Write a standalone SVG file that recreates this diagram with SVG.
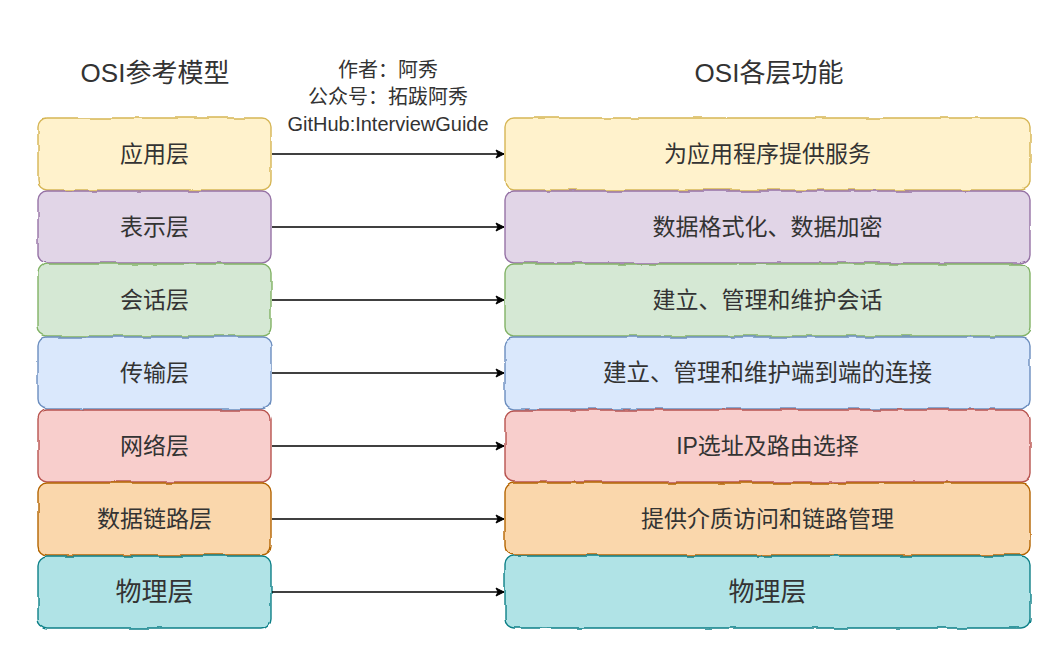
<svg xmlns="http://www.w3.org/2000/svg" width="1054" height="668" viewBox="0 0 1054 668">
<defs>
<marker id="arr" markerWidth="10" markerHeight="10" refX="9" refY="5" orient="auto" markerUnits="userSpaceOnUse">
<path d="M1,1 L9,5 L1,9 L3,5 Z" fill="#000" stroke="#000" stroke-width="1"/>
</marker>
<filter id="wob" x="-2%" y="-5%" width="104%" height="110%">
<feTurbulence type="fractalNoise" baseFrequency="0.04" numOctaves="2" seed="3" result="n"/>
<feDisplacementMap in="SourceGraphic" in2="n" scale="3" xChannelSelector="R" yChannelSelector="G"/>
</filter>
</defs>
<style>
text{font-family:"Liberation Sans","Noto Sans CJK SC",sans-serif;fill:#333;text-anchor:middle;dominant-baseline:central}
.t{font-size:26px}
.a{font-size:20px}
.l{font-size:23px}
.m{font-size:23.5px}
.big{font-size:26px}
rect{stroke-width:1.4;filter:url(#wob)}
.c1{fill:#fff2cc;stroke:#d6b656}
.c2{fill:#e1d5e7;stroke:#9673a6}
.c3{fill:#d5e8d4;stroke:#82b366}
.c4{fill:#dae8fc;stroke:#6c8ebf}
.c5{fill:#f8cecc;stroke:#b85450}
.c6{fill:#fad7ac;stroke:#b46504}
.c7{fill:#b0e3e6;stroke:#0e8088}
.cn line{stroke:#000;stroke-width:1.4;marker-end:url(#arr)}
</style>
<rect width="1054" height="668" fill="#fff" stroke="none" style="filter:none"/>
<g id="titles">
<text class="t" x="155" y="73">OSI参考模型</text>
<text class="t" x="769" y="73">OSI各层功能</text>
</g>
<g id="author">
<text class="a" x="388" y="70">作者：阿秀</text>
<text class="a" x="388" y="97">公众号：拓跋阿秀</text>
<text class="a" x="388" y="124">GitHub:InterviewGuide</text>
</g>
<g id="L1"><rect class="c1" x="38" y="118" width="233" height="72" rx="9"/><text class="l" x="154.5" y="154">应用层</text></g>
<g id="L2"><rect class="c2" x="38" y="191" width="233" height="72" rx="9"/><text class="l" x="154.5" y="227">表示层</text></g>
<g id="L3"><rect class="c3" x="38" y="264" width="233" height="72" rx="9"/><text class="l" x="154.5" y="300">会话层</text></g>
<g id="L4"><rect class="c4" x="38" y="337" width="233" height="72" rx="9"/><text class="l" x="154.5" y="373">传输层</text></g>
<g id="L5"><rect class="c5" x="38" y="410" width="233" height="72" rx="9"/><text class="l" x="154.5" y="446">网络层</text></g>
<g id="L6"><rect class="c6" x="38" y="483" width="233" height="72" rx="9"/><text class="l" x="154.5" y="519">数据链路层</text></g>
<g id="L7"><rect class="c7" x="38" y="556" width="233" height="72" rx="9"/><text class="big" x="154.5" y="592">物理层</text></g>
<g id="R1"><rect class="c1" x="505" y="118" width="525" height="72" rx="9"/><text class="l" x="767.5" y="154">为应用程序提供服务</text></g>
<g id="R2"><rect class="c2" x="505" y="191" width="525" height="72" rx="9"/><text class="l" x="767.5" y="227">数据格式化、数据加密</text></g>
<g id="R3"><rect class="c3" x="505" y="264" width="525" height="72" rx="9"/><text class="l" x="767.5" y="300">建立、管理和维护会话</text></g>
<g id="R4"><rect class="c4" x="505" y="337" width="525" height="72" rx="9"/><text class="m" x="767.5" y="373">建立、管理和维护端到端的连接</text></g>
<g id="R5"><rect class="c5" x="505" y="410" width="525" height="72" rx="9"/><text class="l" x="767.5" y="446">IP选址及路由选择</text></g>
<g id="R6"><rect class="c6" x="505" y="483" width="525" height="72" rx="9"/><text class="l" x="767.5" y="519">提供介质访问和链路管理</text></g>
<g id="R7"><rect class="c7" x="505" y="556" width="525" height="72" rx="9"/><text class="big" x="767.5" y="592">物理层</text></g>
<g id="connectors" class="cn">
<line x1="272" y1="154" x2="504" y2="154"/>
<line x1="272" y1="227" x2="504" y2="227"/>
<line x1="272" y1="300" x2="504" y2="300"/>
<line x1="272" y1="373" x2="504" y2="373"/>
<line x1="272" y1="446" x2="504" y2="446"/>
<line x1="272" y1="519" x2="504" y2="519"/>
<line x1="272" y1="592" x2="504" y2="592"/>
</g>
</svg>
